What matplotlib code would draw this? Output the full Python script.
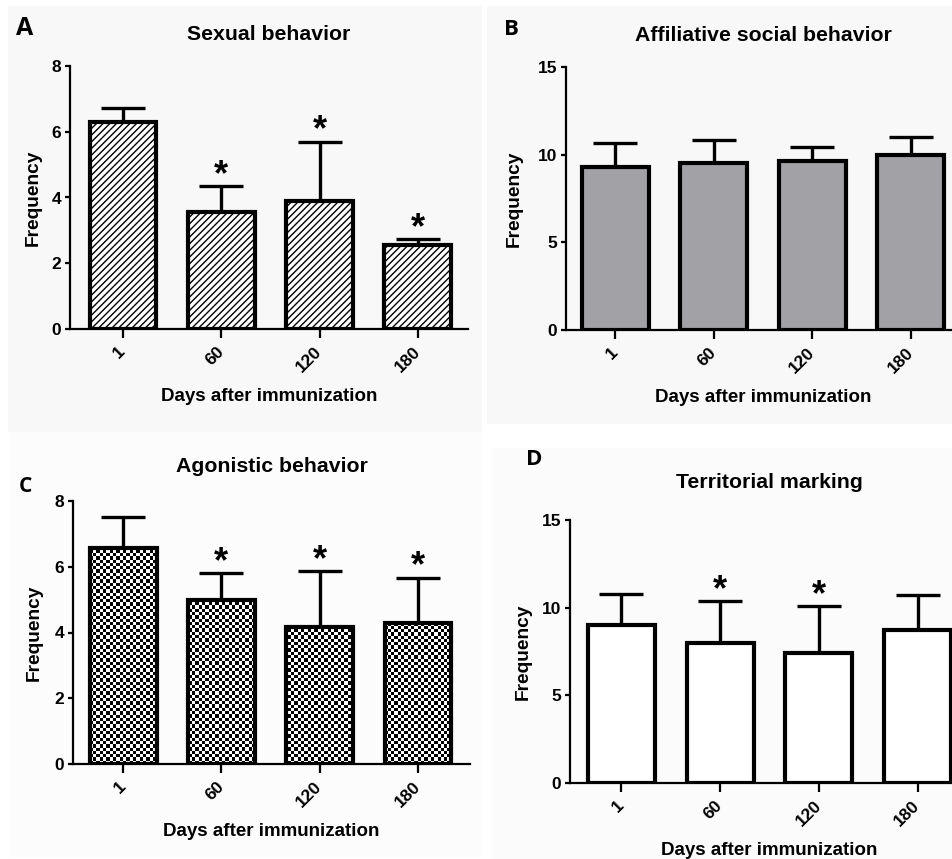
import numpy as np
import matplotlib
matplotlib.use('Agg')
import matplotlib.pyplot as plt
from matplotlib.patches import Rectangle

plt.rcParams['font.family'] = ['Liberation Sans', 'DejaVu Sans']
plt.rcParams['font.weight'] = 'bold'
plt.rcParams['hatch.linewidth'] = 1.0

days = ['1', '60', '120', '180']

sexual_mean = [6.31, 3.57, 3.89, 2.56]
sexual_sem = [0.40, 0.78, 1.81, 0.17]
sexual_star = [False, True, True, True]

affil_mean = [9.30, 9.50, 9.65, 9.97]
affil_sem = [1.37, 1.36, 0.79, 1.04]
affil_star = [False, False, False, False]

agon_mean = [6.58, 4.99, 4.18, 4.28]
agon_sem = [0.94, 0.81, 1.69, 1.39]
agon_star = [False, True, True, True]

terr_mean = [9.00, 7.99, 7.42, 8.72]
terr_sem = [1.76, 2.38, 2.69, 2.00]
terr_star = [False, True, True, False]

W, H = 953, 859
fig = plt.figure(figsize=(W / 100, H / 100), dpi=100)


def px_rect(x0, y0, x1, y1):
    # pixel box (top-left origin) -> figure fraction [left, bottom, width, height]
    return [x0 / W, 1 - y1 / H, (x1 - x0) / W, (y1 - y0) / H]


# faint panel backgrounds
for box, col in [((8, 6, 482, 432), '#f8f8f8'), ((487, 6, 953, 424), '#f8f8f8'),
                 ((10, 432, 482, 857), '#fcfcfc'), ((493, 448, 953, 859), '#fbfbfb')]:
    l, b, w, h = px_rect(*box)
    fig.add_artist(Rectangle((l, b), w, h, transform=fig.transFigure,
                             facecolor=col, edgecolor='none', zorder=-10))


def panel(rect, xlim, means, sems, stars, ymax, yticks, title, title_pad,
          ylab_x, face='white', hatch=None, checker=False):
    ax = fig.add_axes(px_rect(*rect))
    ax.patch.set_alpha(0)
    x = np.arange(len(days))
    ax.errorbar(x, means, yerr=[np.zeros(len(sems)), sems], fmt='none',
                ecolor='black', elinewidth=2.4, capsize=16, capthick=2.4, zorder=1)
    bars = ax.bar(x, means, width=0.68, color=face, edgecolor='black',
                  linewidth=3, hatch=hatch, zorder=3)
    if checker:
        for b in bars:
            b.set_facecolor('none')
        cells = np.indices((80, 120)).sum(axis=0) % 2
        for b in bars:
            im = ax.imshow(cells, cmap='gray', extent=(0, 1, 0, 1), transform=ax.transAxes,
                           interpolation='nearest', aspect='auto', zorder=2)
            im.set_clip_path(b)
    for xi, m, s, st in zip(x, means, sems, stars):
        if st:
            ax.annotate('*', (xi, m + s), xytext=(0, -5), textcoords='offset points',
                        ha='center', va='bottom', fontsize=26, fontweight='bold')
    ax.set_xlim(*xlim)
    ax.set_ylim(0, ymax)
    ax.set_yticks(yticks)
    ax.set_xticks(x)
    ax.set_xticklabels(days, rotation=45, ha='right', va='center', rotation_mode='anchor')
    ax.tick_params(axis='x', length=6.5, width=1.6, labelsize=12.5, pad=8)
    ax.tick_params(axis='y', length=3.5, width=1.6, labelsize=12.5, pad=3)
    for side in ['top', 'right']:
        ax.spines[side].set_visible(False)
    for side in ['left', 'bottom']:
        ax.spines[side].set_linewidth(1.6)
    ax.set_title(title, fontsize=15.3, fontweight='bold', pad=title_pad)
    ax.set_xlabel('Days after immunization', fontsize=13.5, fontweight='bold')
    ax.xaxis.set_label_coords(0.5, -0.225)
    ax.set_ylabel('Frequency', fontsize=13.8, fontweight='bold')
    ax.yaxis.set_label_coords(ylab_x, 0.5)
    return ax


panel((70, 66, 468, 329), (-0.54, 3.51), sexual_mean, sexual_sem, sexual_star,
      8, [0, 2, 4, 6, 8], 'Sexual behavior', 19, -0.07, hatch='/////')
panel((566, 67, 960, 330), (-0.5, 3.5), affil_mean, affil_sem, affil_star,
      15, [0, 5, 10, 15], 'Affiliative social behavior', 19, -0.11, face='#a2a1a6')
panel((73, 501, 470, 764), (-0.51, 3.53), agon_mean, agon_sem, agon_star,
      8, [0, 2, 4, 6, 8], 'Agonistic behavior', 21, -0.076, checker=True)
panel((570, 520, 969, 783), (-0.52, 3.52), terr_mean, terr_sem, terr_star,
      15, [0, 5, 10, 15], 'Territorial marking', 23, -0.095)

# panel letters
for letter, px, py, size in [('A', 16, 35, 18), ('B', 504, 35, 16),
                             ('C', 19, 492, 15), ('D', 526, 465, 16)]:
    fig.text(px / W, 1 - py / H, letter, fontsize=size, fontweight='bold',
             family=['Open Sans', 'DejaVu Sans'], ha='left', va='baseline')

fig.savefig('out.png', dpi=100)
